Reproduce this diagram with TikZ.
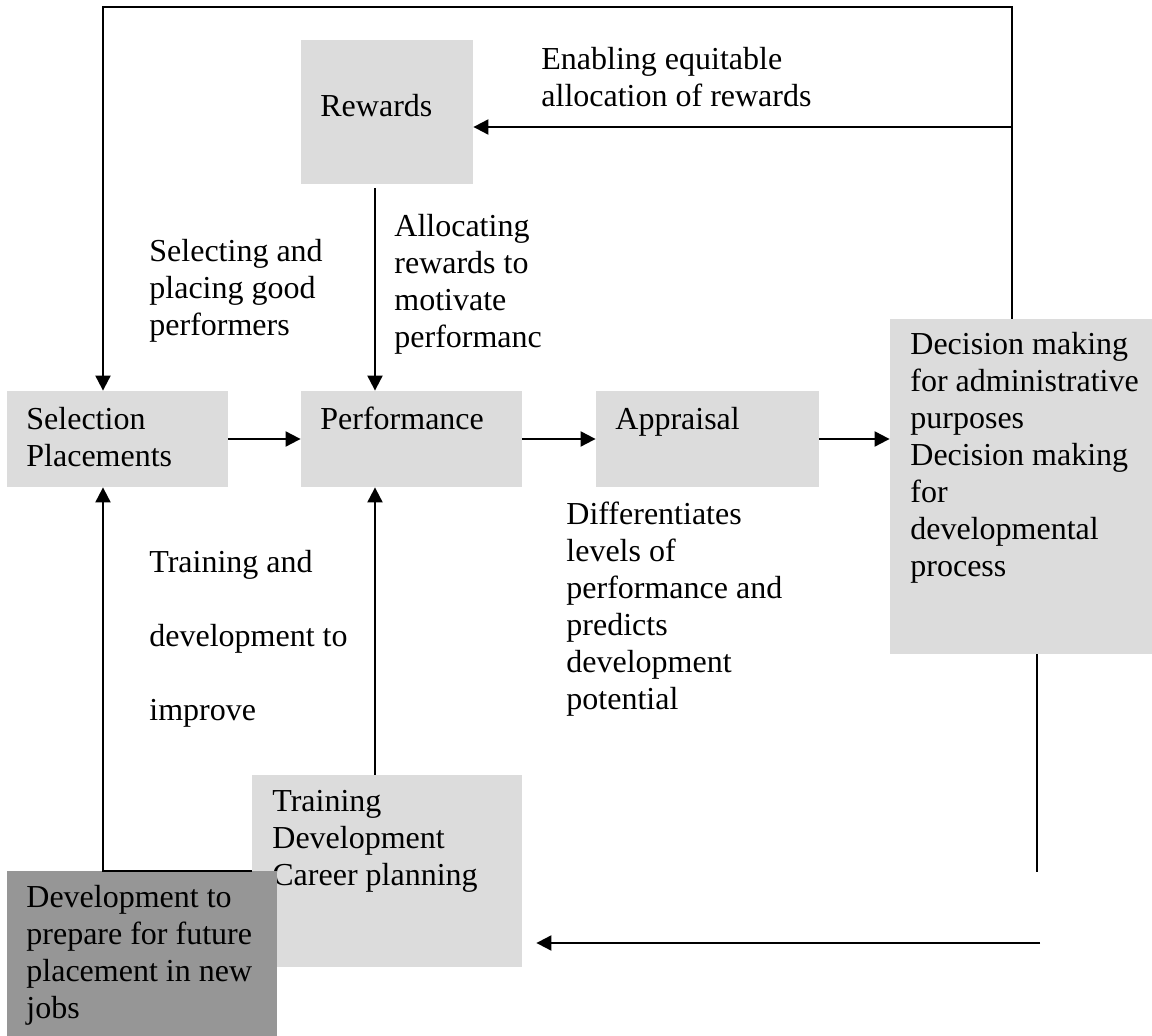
\documentclass[tikz,border=0pt]{standalone}
\usepackage{fontspec}
\setmainfont{Liberation Serif}
\usetikzlibrary{arrows.meta}
\definecolor{boxgray}{HTML}{DCDCDC}
\definecolor{darkgray}{HTML}{969696}
\newcommand{\mylines}[1]{\begin{tabular}[t]{@{}l@{}}#1\end{tabular}}
\tikzset{
  box/.style={fill=boxgray, draw=none, inner sep=0pt},
  darkbox/.style={fill=darkgray, draw=none, inner sep=0pt},
  txt/.style={anchor=base west, inner sep=0pt, font=\fontsize{16}{18.5}\selectfont},
  arr/.style={-{Triangle[length=7.5pt,width=7.5pt]}, line width=1pt},
  ln/.style={line width=1pt}
}
\begin{document}
\begin{tikzpicture}[x=0.5pt,y=-0.5pt]
\useasboundingbox (0,0) rectangle (1152,1036);
% boxes
\node[box, minimum width=86pt, minimum height=72pt] (rew) at (387,112) {};
\node[box, minimum width=110.5pt, minimum height=48pt] (sel) at (117.5,439) {};
\node[box, minimum width=110.5pt, minimum height=48pt] (perf) at (411.5,439) {};
\node[box, minimum width=111.5pt, minimum height=48pt] (appr) at (707.5,439) {};
\node[box, minimum width=131pt, minimum height=167.5pt] (dec) at (1021,486.5) {};
\node[box, minimum width=135pt, minimum height=96pt] (train) at (387,871) {};
% box texts
\node[txt] (trewards) at (320,117) {Rewards};
\node[txt] (tsel) at (26,430) {\mylines{Selection\\Placements}};
\node[txt] (tperf) at (320,430) {Performance};
\node[txt] (tappr) at (615,430) {Appraisal};
\node[txt] (tdec) at (910,355) {\mylines{Decision making\\for administrative\\purposes\\Decision making\\for\\developmental\\process}};
\node[txt] (ttrain) at (272,812) {\mylines{Training\\Development\\Career planning}};
% dark box over training box
\node[darkbox, minimum width=135pt, minimum height=82.5pt] (dev) at (142,953.5) {};
\node[txt] (tdev) at (26,908) {\mylines{Development to\\prepare for future\\placement in new\\jobs}};
% labels
\node[txt] (lenab) at (541,70) {\mylines{Enabling equitable\\allocation of rewards}};
\node[txt] (lsel) at (149,262) {\mylines{Selecting and\\placing good\\performers}};
\node[txt] (lalloc) at (394,237) {\mylines{Allocating\\rewards to\\motivate\\performanc}};
\node[txt] (ldiff) at (566,525) {\mylines{Differentiates\\levels of\\performance and\\predicts\\development\\potential}};
\node[txt] (ltrain) at (149,573) {\mylines{Training and\\[18.5pt]development to\\[18.5pt]improve}};
% coordinates
\coordinate (tr) at (1012,7);
\coordinate (tl) at (103,7);
\coordinate (rj) at (1012,127);
\coordinate (cx) at (375,0);
\coordinate (vx) at (1037,0);
\coordinate (vb) at (1037,872);
\coordinate (br) at (1040,943);
% connectors
\draw[arr] (dec.north -| tr) -- (tr) -- (tl) -- (sel.north -| tl);
\draw[arr] (rj) -- (rj -| rew.east);
\draw[arr] ([yshift=-2pt]rew.south -| cx) -- (perf.north -| cx);
\draw[arr] (sel.east) -- (perf.west);
\draw[arr] (perf.east) -- (appr.west);
\draw[arr] (appr.east) -- (appr.east -| dec.west);
\draw[ln] (dec.south -| vx) -- (vb);
\draw[arr] (br) -- ([xshift=7pt]train.east |- br);
\draw[arr] (train.north -| cx) -- (perf.south -| cx);
\draw[arr] (train.west |- dev.north) -- (dev.north -| tl) -- (sel.south -| tl);
\end{tikzpicture}
\end{document}
